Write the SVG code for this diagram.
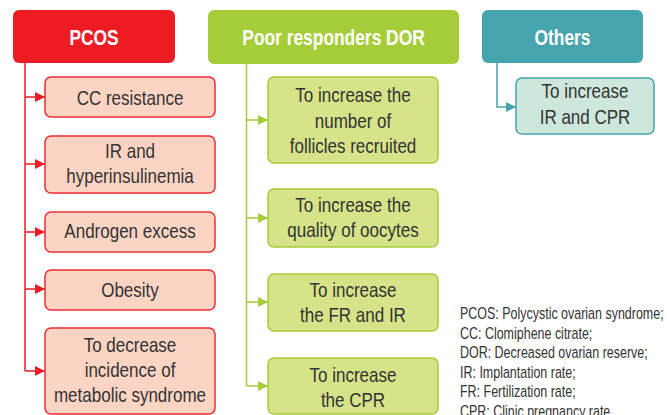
<svg xmlns="http://www.w3.org/2000/svg" width="667" height="415" viewBox="0 0 667 415">
<defs>
<style>
text{font-family:"Liberation Sans",Arial,sans-serif;}
.hd{font-size:22px;font-weight:bold;fill:#ffffff;text-anchor:middle;}
.tx{font-size:21px;fill:#333333;text-anchor:middle;}
.lg{font-size:16px;fill:#333333;}
.rh{fill:#ed1c24;}
.gh{fill:#a5cd39;}
.th{fill:#45a4ac;}
.rc{fill:#fbd4c4;stroke:#ee2c36;stroke-width:1.5;}
.gc{fill:#d6e389;stroke:#a5cd39;stroke-width:1.5;}
.tc{fill:#cde8da;stroke:#45a4ac;stroke-width:1.5;}
.rl{fill:none;stroke:#ed1c24;stroke-width:1.5;}
.gl{fill:none;stroke:#a5cd39;stroke-width:1.5;}
.tl{fill:none;stroke:#45a4ac;stroke-width:1.5;}
</style>
<marker id="ar" markerUnits="userSpaceOnUse" markerWidth="10" markerHeight="10" refX="10" refY="5" orient="auto"><path d="M0,0 L10,5 L0,10 z" fill="#ed1c24"/></marker>
<marker id="ag" markerUnits="userSpaceOnUse" markerWidth="10" markerHeight="10" refX="10" refY="5" orient="auto"><path d="M0,0 L10,5 L0,10 z" fill="#a5cd39"/></marker>
<marker id="at" markerUnits="userSpaceOnUse" markerWidth="10" markerHeight="10" refX="10" refY="5" orient="auto"><path d="M0,0 L10,5 L0,10 z" fill="#45a4ac"/></marker>
</defs>
<rect width="667" height="415" fill="#ffffff"/>
<g id="connectors">
<path class="rl" d="M25,63 V371"/>
<path class="rl" d="M25,97 H45" marker-end="url(#ar)"/>
<path class="rl" d="M25,164 H45" marker-end="url(#ar)"/>
<path class="rl" d="M25,232 H45" marker-end="url(#ar)"/>
<path class="rl" d="M25,289 H45" marker-end="url(#ar)"/>
<path class="rl" d="M25,371 H45" marker-end="url(#ar)"/>
<path class="gl" d="M246.5,64 V386"/>
<path class="gl" d="M246.5,120 H268" marker-end="url(#ag)"/>
<path class="gl" d="M246.5,218 H268" marker-end="url(#ag)"/>
<path class="gl" d="M246.5,302 H268" marker-end="url(#ag)"/>
<path class="gl" d="M246.5,386 H268" marker-end="url(#ag)"/>
<path class="tl" d="M497,63 V107 H516" marker-end="url(#at)"/>
</g>
<g id="pcos"><rect class="rh" x="13" y="10" width="162" height="53" rx="6"/><text class="hd" transform="matrix(0.79 0 0 1 94 45)">PCOS</text></g>
<g id="dor"><rect class="gh" x="208" y="10" width="251" height="54" rx="6"/><text class="hd" transform="matrix(0.79 0 0 1 333.5 45)">Poor responders DOR</text></g>
<g id="others"><rect class="th" x="482" y="10" width="161" height="53" rx="6"/><text class="hd" transform="matrix(0.79 0 0 1 562.5 45)">Others</text></g>
<g id="cc-resistance"><rect class="rc" x="45" y="77" width="170" height="40" rx="6"/><text class="tx" transform="matrix(0.81 0 0 1 130 105)">CC resistance</text></g>
<g id="ir-hyperinsulinemia"><rect class="rc" x="45" y="136" width="170" height="57" rx="6"/><text class="tx" transform="matrix(0.81 0 0 1 130 158)">IR and</text><text class="tx" transform="matrix(0.81 0 0 1 130 183)">hyperinsulinemia</text></g>
<g id="androgen-excess"><rect class="rc" x="45" y="212" width="170" height="40" rx="6"/><text class="tx" transform="matrix(0.81 0 0 1 130 238)">Androgen excess</text></g>
<g id="obesity"><rect class="rc" x="45" y="270" width="170" height="40" rx="6"/><text class="tx" transform="matrix(0.81 0 0 1 130 297)">Obesity</text></g>
<g id="metabolic-syndrome"><rect class="rc" x="45" y="328" width="170" height="86" rx="6"/><text class="tx" transform="matrix(0.81 0 0 1 130 352)">To decrease</text><text class="tx" transform="matrix(0.81 0 0 1 130 377)">incidence of</text><text class="tx" transform="matrix(0.81 0 0 1 130 402)">metabolic syndrome</text></g>
<g id="follicles"><rect class="gc" x="268" y="77" width="170" height="86" rx="6"/><text class="tx" transform="matrix(0.81 0 0 1 353 102)">To increase the</text><text class="tx" transform="matrix(0.81 0 0 1 353 127.5)">number of</text><text class="tx" transform="matrix(0.81 0 0 1 353 153)">follicles recruited</text></g>
<g id="oocytes"><rect class="gc" x="268" y="189" width="170" height="58" rx="6"/><text class="tx" transform="matrix(0.81 0 0 1 353 212)">To increase the</text><text class="tx" transform="matrix(0.81 0 0 1 353 237)">quality of oocytes</text></g>
<g id="fr-ir"><rect class="gc" x="268" y="274" width="170" height="57" rx="6"/><text class="tx" transform="matrix(0.81 0 0 1 353 297)">To increase</text><text class="tx" transform="matrix(0.81 0 0 1 353 322)">the FR and IR</text></g>
<g id="cpr"><rect class="gc" x="268" y="358" width="170" height="56" rx="6"/><text class="tx" transform="matrix(0.81 0 0 1 353 382)">To increase</text><text class="tx" transform="matrix(0.81 0 0 1 353 407)">the CPR</text></g>
<g id="ir-cpr"><rect class="tc" x="516" y="78" width="138" height="56" rx="6"/><text class="tx" transform="matrix(0.81 0 0 1 585 98)">To increase</text><text class="tx" transform="matrix(0.81 0 0 1 585 124)">IR and CPR</text></g>
<g id="legend">
<text class="lg" transform="matrix(0.78 0 0 1 460 319)">PCOS: Polycystic ovarian syndrome;</text>
<text class="lg" transform="matrix(0.78 0 0 1 460 338.6)">CC: Clomiphene citrate;</text>
<text class="lg" transform="matrix(0.78 0 0 1 460 358.2)">DOR: Decreased ovarian reserve;</text>
<text class="lg" transform="matrix(0.78 0 0 1 460 377.8)">IR: Implantation rate;</text>
<text class="lg" transform="matrix(0.78 0 0 1 460 397.4)">FR: Fertilization rate;</text>
<text class="lg" transform="matrix(0.78 0 0 1 460 417)">CPR: Clinic pregnancy rate.</text>
</g>
</svg>
